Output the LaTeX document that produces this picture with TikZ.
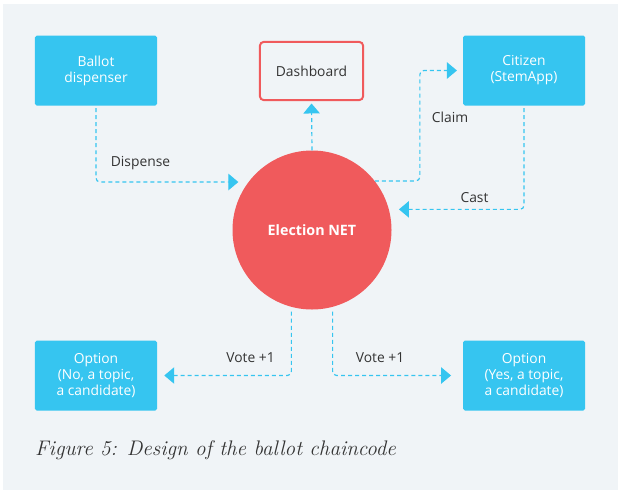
\documentclass[tikz,border=0pt]{standalone}
\usepackage{fontspec}
\newfontfamily\uifont{Open Sans}
\usetikzlibrary{arrows.meta}
\definecolor{bgcol}{HTML}{F0F4F7}
\definecolor{boxcyan}{HTML}{36C5F0}
\definecolor{netred}{HTML}{F05A5C}
\definecolor{txtdark}{HTML}{333333}
\begin{document}
\begin{tikzpicture}[
  x=0.03cm, y=-0.03cm,
  box/.style={rectangle,rounded corners=1.5pt,fill=boxcyan,text=white,inner sep=0pt,
    minimum width=3.66cm,minimum height=2.1cm,align=center,
    font=\uifont\fontsize{11.8}{13.7}\selectfont},
  dashbox/.style={rectangle,rounded corners=3.5pt,draw=netred,line width=1.7pt,inner sep=0pt,
    minimum width=3.1cm,minimum height=1.75cm,text=txtdark,font=\uifont\fontsize{11.8}{13.7}\selectfont},
  hub/.style={circle,fill=netred,text=white,inner sep=0pt,minimum size=4.77cm,
    font=\uifont\bfseries\fontsize{12.2}{13}\selectfont},
  flow/.style={draw=boxcyan,line width=1pt,dash pattern=on 3.4pt off 2.6pt,rounded corners=3.4pt,
    -{Triangle[length=8.5pt,width=14pt]}},
  lbl/.style={text=txtdark,font=\uifont\fontsize{11.8}{13}\selectfont},
]
  \useasboundingbox (0,0) rectangle (621,494);
  \fill[bgcol] (3,4) rectangle (618,490);

  % top row
  \node[box] (ballot) at (96,70.5) {Ballot\\dispenser};
  \node[dashbox] (dash) at (311.5,71) {Dashboard};
  \node[box] (citizen) at (524,70.5) {Citizen\\(StemApp)};

  % centre
  \node[hub] (net) at (312,230) {Election NET};

  % bottom row
  \node[box] (optno) at (96,375.5) {Option\\(No, a topic,\\a candidate)};
  \node[box] (optyes) at (524,375.5) {Option\\(Yes, a topic,\\a candidate)};

  % flows
  \draw[flow,shorten <=2pt,shorten >=8.5pt] (ballot.south) |- (net.143);
  \draw[flow,shorten >=2pt] (net.north) -- (dash.south);
  \draw[flow,shorten >=5pt] (net.38) -- ++(45,0) |- (citizen.west);
  \draw[flow,shorten <=2pt,shorten >=8.5pt] (citizen.south) |- (net.15);
  \draw[flow,shorten <=4pt,shorten >=6pt] (net.255) |- (optno.east);
  \draw[flow,shorten <=4pt,shorten >=10pt] (net.285) |- (optyes.west);

  \node[lbl] (ldisp) at (140.5,163) {Dispense};
  \node[lbl] (lclaim) at (450,117) {Claim};
  \node[lbl] (lcast) at (474.5,197.5) {Cast};
  \node[lbl] (lvoteno) at (250.5,358) {Vote +1};
  \node[lbl] (lvoteyes) at (380,358) {Vote +1};

  % caption
  \node[anchor=base west,inner sep=0pt,text=txtdark,font=\fontsize{18}{20}\selectfont\itshape]
    (cap) at (35,455) {Figure 5: Design of the ballot chaincode};
\end{tikzpicture}
\end{document}
